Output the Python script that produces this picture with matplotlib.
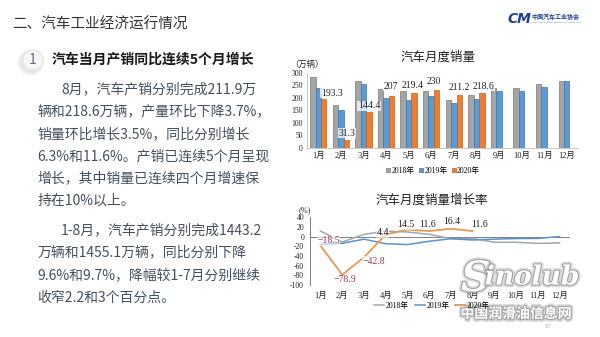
import matplotlib
matplotlib.use("Agg")
import matplotlib.pyplot as plt
import matplotlib.patheffects as pe
from matplotlib.patches import Circle, Patch
from matplotlib.lines import Line2D
import numpy as np

plt.rcParams['font.family'] = ['Noto Sans CJK SC', 'DejaVu Sans']

# ---- data -------------------------------------------------------------
months = ['1月', '2月', '3月', '4月', '5月', '6月',
          '7月', '8月', '9月', '10月', '11月', '12月']
series_years = ['2018年', '2019年', '2020年']

# monthly vehicle sales (10k units)
sales_2018 = [282, 171, 267, 234, 229, 227, 190, 211, 238, 238, 255, 267]
sales_2019 = [238, 150, 253, 200, 191, 207, 181, 196, 227, 229, 245, 267]
sales_2020 = [193.3, 31.3, 144.4, 207.0, 219.4, 230, 211.2, 218.6]
sales_yticks = [0, 50, 100, 150, 200, 250, 300]

# year-on-year growth of monthly sales (%)
growth_2018 = [11.6, -11.1, 4.7, 11.5, 9.6, 4.8, -4.0, -3.8, -11.6, -11.7, -13.9, -13.0]
growth_2019 = [-15.8, -13.8, -5.2, -14.6, -16.4, -9.6, -4.3, -6.9, -5.2, -4.0, -3.6, 0.1]
growth_2020 = [-18.5, -78.9, -42.8, 4.4, 14.5, 11.6, 16.4, 11.6]
growth_yticks = [-100, -80, -60, -40, -20, 0, 20, 40]

header = '二、汽车工业经济运行情况'
subtitle = '汽车当月产销同比连续5个月增长'
para1 = ['8月，汽车产销分别完成211.9万',
         '辆和218.6万辆，产量环比下降3.7%，',
         '销量环比增长3.5%，同比分别增长',
         '6.3%和11.6%。产销已连续5个月呈现',
         '增长，其中销量已连续四个月增速保',
         '持在10%以上。']
para2 = ['1-8月，汽车产销分别完成1443.2',
         '万辆和1455.1万辆，同比分别下降',
         '9.6%和9.7%，降幅较1-7月分别继续',
         '收窄2.2和3个百分点。']

# ---- figure ---------------------------------------------------------------
W, H = 600, 337
fig = plt.figure(figsize=(W / 100, H / 100), dpi=100)
fig.patch.set_facecolor('white')


def rect(left, top, right, bottom):
    return [left / W, 1 - bottom / H, (right - left) / W, (bottom - top) / H]


CJK = ['Noto Sans CJK SC', 'DejaVu Sans']
SERIF = ['Liberation Serif', 'Noto Sans CJK SC']
TXT = '#44505e'

# slide canvas in pixel units
bg = fig.add_axes([0, 0, 1, 1])
bg.set_xlim(0, W)
bg.set_ylim(H, 0)
bg.axis('off')

bg.text(12, 25, header, fontsize=10.5, color='#333333', va='center', ha='left', family=CJK)

# logo
bg.text(508, 19, 'CM', fontsize=10, color='#1d3f8f', fontweight='bold', style='italic',
        va='center', ha='left', family=['DejaVu Sans'])
bg.text(531, 16, '中国汽车工业协会', fontsize=4.3, color='#1d3f8f', fontweight='bold',
        va='center', ha='left', family=CJK)
bg.text(531, 22.5, 'China Association of Automobile Manufacturers', fontsize=1.6,
        color='#6b7a99', va='center', ha='left')

# numbered badge
for r, a in [(14, 0.06), (12.5, 0.08), (11.5, 0.1)]:
    bg.add_patch(Circle((31, 62), r, color='#9a9a9a', alpha=a, lw=0))
bg.add_patch(Circle((33, 60), 10, facecolor='#f7f7f7', edgecolor='#e2e2e2', lw=0.6))
bg.text(33, 60.5, '1', fontsize=10, color='#5f6f86', ha='center', va='center', family=CJK)
bg.text(52, 60, subtitle, fontsize=10, color='#1a1a1a', fontweight='bold',
        ha='left', va='center', family=CJK)

for i, line in enumerate(para1):
    bg.text(61 if i == 0 else 37.5, 89 + i * 22.4, line, fontsize=10, color=TXT,
            ha='left', va='center', family=CJK)
for i, line in enumerate(para2):
    bg.text(61 if i == 0 else 37.5, 230 + i * 22.7, line, fontsize=10, color=TXT,
            ha='left', va='center', family=CJK)

# ---- bar chart: monthly sales --------------------------------------------
ax1 = fig.add_axes(rect(307, 72.7, 578, 148))
x = np.arange(len(months))
bw, off = 0.24, 0.24
ax1.bar(x - off, sales_2018, bw, color='#a5a5a5', edgecolor='#7a7a7a', lw=0.5)
ax1.bar(x, sales_2019, bw, color='#5b9bd5', edgecolor='#3f74aa', lw=0.5)
x20 = x[:len(sales_2020)] + off
ax1.bar(x20, sales_2020, bw, color='#ed7d31', edgecolor='#c0601f', lw=0.5)
ax1.set_xlim(-0.5, 11.5)
ax1.set_ylim(0, 300)
ax1.set_yticks(sales_yticks)
ax1.set_yticklabels([str(v) for v in sales_yticks], fontsize=5.5, family=SERIF, color='#222222')
ax1.set_xticks(x)
ax1.set_xticklabels(months, fontsize=6, family=SERIF, color='#222222')
ax1.tick_params(length=0, pad=3)
for s in ['top', 'right']:
    ax1.spines[s].set_visible(False)
for s in ['left', 'bottom']:
    ax1.spines[s].set_color('#bfbfbf')
    ax1.spines[s].set_linewidth(0.6)
ax1.patch.set_alpha(0)

bar_label_offsets = [(8, 6), (1, 7), (0, 6), (-1, 10), (-1, 7), (-3, 9), (0, 7), (2, 7)]
for xi, v, (dx, dy) in zip(x20, sales_2020, bar_label_offsets):
    ax1.annotate(f'{v:g}', (xi, v), xytext=(dx, dy), textcoords='offset pixels',
                 ha='center', va='center', fontsize=7, family=SERIF, color='#222222',
                 bbox=dict(boxstyle='square,pad=0.05', fc='white', ec='none', alpha=0.75))

bg.text(438.5, 57, '汽车月度销量', fontsize=9, color='#222222', ha='center', va='center', family=CJK)
bg.text(290, 64.5, '（万辆）', fontsize=6, color='#222222', ha='left', va='center', family=CJK)

bar_handles = [Patch(fc='#a5a5a5', ec='#7a7a7a', lw=0.5),
               Patch(fc='#5b9bd5', ec='#3f74aa', lw=0.5),
               Patch(fc='#ed7d31', ec='#c0601f', lw=0.5)]
fig.legend(bar_handles, series_years, loc='center', bbox_to_anchor=(433 / W, 1 - 170.7 / H),
           ncol=3, frameon=False, fontsize=5.5, handlelength=0.55, handleheight=0.55,
           handletextpad=0.15, columnspacing=0.6, prop={'family': SERIF, 'size': 5.5})

# ---- line chart: growth rate --------------------------------------------
ax2 = fig.add_axes(rect(309.6, 217.3, 570.4, 285))
ax2.plot(x, growth_2018, color='#a0a8b0', lw=1.1)
ax2.plot(x, growth_2019, color='#5b93c8', lw=1.1)
x20l = x[:len(growth_2020)]
ax2.plot(x20l, growth_2020, color='#e09a55', lw=1.3)
ax2.axhline(0, color='#7f7f7f', lw=0.7, zorder=0)
ax2.set_xlim(-0.5, 11.5)
ax2.set_ylim(-100, 40)
ax2.set_yticks(growth_yticks)
ax2.set_yticklabels([str(v) for v in growth_yticks], fontsize=5.5, family=SERIF, color='#222222')
ax2.set_xticks(x)
ax2.set_xticklabels(months, fontsize=6, family=SERIF, color='#222222')
ax2.tick_params(length=0, pad=4)
ax2.tick_params(axis='x', pad=5)
for s in ['top', 'right', 'bottom']:
    ax2.spines[s].set_visible(False)
ax2.spines['left'].set_color('#7f7f7f')
ax2.spines['left'].set_linewidth(0.7)
ax2.patch.set_alpha(0)

line_label_offsets = [(8, 5), (3, -5), (10, -4), (-3, 2), (-2, 5), (-2, 7), (1, 7), (7, 7)]
for xi, v, (dx, dy) in zip(x20l, growth_2020, line_label_offsets):
    ax2.annotate(f'{v:g}'.replace('-', '−') if v < 0 else f'{v:g}', (xi, v), xytext=(dx, dy),
                 textcoords='offset pixels', ha='center', va='center', fontsize=7,
                 family=SERIF, color='#a23b52' if v < 0 else '#222222',
                 bbox=dict(boxstyle='square,pad=0.05', fc='white', ec='none', alpha=0.6))

bg.text(431.5, 200, '汽车月度销量增长率', fontsize=9, color='#222222', ha='center', va='center', family=CJK)
bg.text(299, 210, '(%)', fontsize=6, color='#222222', ha='left', va='center', family=SERIF)

line_handles = [Line2D([], [], color='#a0a8b0', lw=1.1),
                Line2D([], [], color='#5b93c8', lw=1.1),
                Line2D([], [], color='#e09a55', lw=1.3)]
fig.legend(line_handles, series_years, loc='center', bbox_to_anchor=(432 / W, 1 - 305.7 / H),
           ncol=3, frameon=False, handlelength=1.3, handletextpad=0.2, columnspacing=0.8,
           prop={'family': SERIF, 'size': 5.5})

# page number and site watermark
fig.text(548 / W, 1 - 326 / H, '17', fontsize=4, color='#b0b0b0', ha='center', va='center')
halo = [pe.withStroke(linewidth=4, foreground='#9a9a9a', alpha=0.35),
        pe.withStroke(linewidth=1.6, foreground='#8a8a8a', alpha=0.7)]
fig.text(476 / W, 1 - 279 / H, 'S', fontsize=30, color='white', style='italic', fontweight='bold',
         family=['DejaVu Serif'], ha='center', va='center', path_effects=halo)
fig.text(532 / W, 1 - 277 / H, 'inolub', fontsize=19, color='white', style='italic',
         fontweight='bold', family=['DejaVu Serif'], ha='center', va='center', path_effects=halo)
fig.text(516 / W, 1 - 314 / H, '中国润滑油信息网', fontsize=10, color='white', fontweight='bold',
         family=CJK, ha='center', va='center', path_effects=halo)

fig.savefig('out.png', dpi=100)
